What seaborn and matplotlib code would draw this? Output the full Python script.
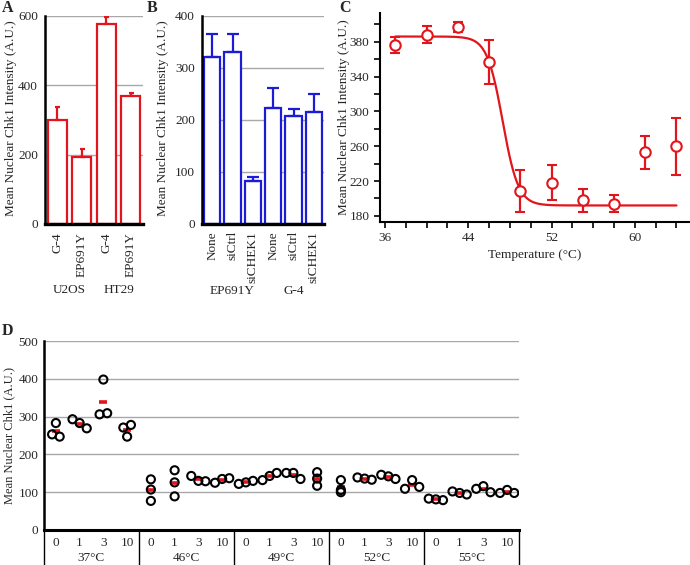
import numpy as np
import pandas as pd
import seaborn as sns
import matplotlib
matplotlib.use('Agg')
import matplotlib.pyplot as plt
import matplotlib.transforms as mtransforms
from matplotlib.ticker import MultipleLocator

# --- panel A: bars, upward error only
a_labels = ['G-4', 'EP691Y', 'G-4', 'EP691Y']
a_groups = ['U2OS', 'HT29']
a_values = [300, 192, 578, 370]
a_err = [38, 23, 20, 8]

# --- panel B
b_labels = ['None', 'siCtrl', 'siCHEK1', 'None', 'siCtrl', 'siCHEK1']
b_groups = ['EP691Y', 'G-4']
b_values = [322, 330, 83, 223, 208, 215]
b_err = [44, 36, 7, 39, 14, 35]

# --- panel C: melt curve
c_temp = [37, 40, 43, 46, 49, 52, 55, 58, 61, 64]
c_values = [376, 388, 397, 357, 209, 218, 198, 194, 253, 260]
c_err = [9, 10, 6, 25, 24, 20, 13, 10, 19, 33]
# Boltzmann fit parameters
c_fit_top, c_fit_bottom, c_fit_mid, c_fit_slope = 386, 192, 47.3, 0.75
c_fit_range = (37, 64)

# --- panel D: three replicates per (temperature, time)
d_temps = ['37°C', '46°C', '49°C', '52°C', '55°C']
d_times = ['0', '1', '3', '10']
d_rep1 = [253, 293, 306, 271, 134, 158, 143, 125, 122, 132, 151, 153,
          132, 139, 146, 109, 83, 102, 109, 98]
d_rep2 = [283, 283, 398, 247, 107, 126, 130, 135, 126, 143, 151, 136,
          106, 136, 142, 132, 81, 98, 116, 106]
d_rep3 = [247, 269, 309, 278, 77, 89, 129, 137, 130, 151, 135, 117,
          100, 133, 135, 114, 79, 94, 100, 98]
# horizontal spread of the replicate circles (fraction of a slot)
d_spread = [0.16, 0.3, 0.16, 0.16, 0, 0, 0.3, 0.3, 0.3, 0.3, 0.3, 0,
            0, 0.3, 0.3, 0.3, 0.3, 0.3, 0.3, 0.3]

RED = '#e3151c'
BLUE = '#1c1cd8'
GRID = '#a8a8a8'

sns.set_theme(style='white')
plt.rcParams['font.family'] = ['Liberation Serif', 'DejaVu Serif']
plt.rcParams['font.size'] = 9

W, H = 690, 565
fig = plt.figure(figsize=(W / 100, H / 100), dpi=100)


def box(l, t, r, b):
    return [l / W, 1 - b / H, (r - l) / W, (b - t) / H]


def ftext(x, y, s, **kw):
    fig.text(x / W, 1 - y / H, s, **kw)


def style_axes(ax, lw=1.8):
    for side in ['top', 'right']:
        ax.spines[side].set_visible(False)
    for side in ['left', 'bottom']:
        ax.spines[side].set_color('black')
        ax.spines[side].set_linewidth(lw)
    ax.yaxis.grid(True, color=GRID, lw=1)
    ax.set_axisbelow(True)


def bar_panel(ax, labels, values, err, color, ymax, ystep, capsize, width):
    n = len(values)
    df = pd.DataFrame({'pos': range(n), 'value': values})
    sns.barplot(data=df, x='pos', y='value', ax=ax, color='white',
                edgecolor=color, linewidth=1.6, width=width, errorbar=None,
                saturation=1)
    ax.errorbar(range(n), values, yerr=[np.zeros(n), err], fmt='none',
                ecolor=color, elinewidth=1.6, capsize=capsize, capthick=1.6,
                zorder=3)
    style_axes(ax)
    ax.set_xlim(-0.5, n - 0.5)
    ax.set_ylim(0, ymax)
    ax.set_yticks(np.arange(0, ymax + 1, ystep))
    ax.set_xticks(range(n))
    ax.set_xticklabels(labels, rotation=90, fontsize=9.5)
    ax.tick_params(axis='y', length=0, pad=5, labelsize=9.5)
    ax.set_xlabel('')
    ax.set_ylabel('')


# ---------- A
axA = fig.add_axes(box(45, 16, 143, 224))
bar_panel(axA, a_labels, a_values, a_err, RED, 600, 200, 1.8, 0.78)
axA.spines['bottom'].set_linewidth(2.4)
axA.tick_params(axis='x', length=0, pad=6)
trA = mtransforms.blended_transform_factory(axA.transData, fig.transFigure)
for i, g in enumerate(a_groups):
    axA.text(2 * i + 0.5, 1 - 290 / H, g, transform=trA, ha='center',
             va='center', fontsize=9.5)
ftext(11, 118, 'Mean Nuclear Chk1 Intensity (A.U.)', rotation=90,
      ha='center', va='center', fontsize=9.5)

# ---------- B
axB = fig.add_axes(box(202, 16, 324, 224))
bar_panel(axB, b_labels, b_values, b_err, BLUE, 400, 100, 4, 0.8)
axB.spines['bottom'].set_linewidth(2.4)
axB.set_xticks(np.arange(-0.5, len(b_values)), minor=True)
axB.tick_params(axis='x', which='major', length=0, pad=5)
axB.tick_params(axis='x', which='minor', length=5, width=1.2, color='black',
                direction='out')
trB = mtransforms.blended_transform_factory(axB.transData, fig.transFigure)
for i, g in enumerate(b_groups):
    axB.text(3 * i + 1, 1 - 291 / H, g, transform=trB, ha='center',
             va='center', fontsize=9.5)
ftext(163, 118, 'Mean Nuclear Chk1 Intensity (A.U.)', rotation=90,
      ha='center', va='center', fontsize=9.5)

# ---------- C
axC = fig.add_axes(box(380, 13, 690, 222))
xs = np.linspace(c_fit_range[0], c_fit_range[1], 300)
ys = c_fit_bottom + (c_fit_top - c_fit_bottom) / (1 + np.exp((xs - c_fit_mid) / c_fit_slope))
sns.lineplot(x=xs, y=ys, ax=axC, color=RED, lw=1.6)
axC.errorbar(c_temp, c_values, yerr=c_err, fmt='o', ms=7.5, mfc='white',
             mec=RED, mew=1.5, ecolor=RED, elinewidth=1.6, capsize=3.6,
             capthick=1.6, zorder=3)
for side in ['top', 'right']:
    axC.spines[side].set_visible(False)
for side in ['left', 'bottom']:
    axC.spines[side].set_color('black')
    axC.spines[side].set_linewidth(1.5)
axC.set_xlim(35.52, 65.3)
axC.set_ylim(173, 413)
axC.set_xticks([36, 44, 52, 60])
axC.xaxis.set_minor_locator(MultipleLocator(2))
axC.set_yticks(np.arange(180, 381, 40))
axC.yaxis.set_minor_locator(MultipleLocator(20))
axC.tick_params(which='both', direction='out', color='black', width=1.2,
                length=4, labelsize=9.5, bottom=True, left=True)
axC.set_xlabel('')
axC.set_ylabel('')
ftext(535, 255, 'Temperature (°C)', ha='center', va='center', fontsize=9.5)
ftext(344, 117, 'Mean Nuclear Chk1 Intensity (A.U.)', rotation=90,
      ha='center', va='center', fontsize=9.5)

# ---------- D
axD = fig.add_axes(box(44, 341, 519, 530))
n_slots = len(d_temps) * len(d_times)
slot = np.arange(n_slots)
spread = np.array(d_spread)
reps = np.array([d_rep1, d_rep2, d_rep3])
means = reps.mean(axis=0)
dfD = pd.DataFrame({
    'x': np.concatenate([slot - spread, slot, slot + spread]),
    'value': reps.ravel(),
})
axD.plot(slot, means, ls='none', marker='_', ms=6, mew=2.6, color=RED,
         zorder=2)
sns.scatterplot(data=dfD, x='x', y='value', ax=axD, marker='o', s=34,
                facecolor='none', edgecolor='black', linewidth=1.5, zorder=3)
style_axes(axD, lw=1.8)
axD.spines['bottom'].set_linewidth(2.2)
axD.set_xlim(-0.5, n_slots - 0.5)
axD.set_ylim(0, 500)
axD.set_yticks(np.arange(0, 501, 100))
axD.set_xticks(slot)
axD.set_xticklabels(d_times * len(d_temps), fontsize=9.5)
axD.tick_params(axis='x', length=0, pad=5)
axD.tick_params(axis='y', length=0, pad=4, labelsize=9.5)
axD.set_xlabel('')
axD.set_ylabel('')
trD = mtransforms.blended_transform_factory(axD.transData, fig.transFigure)
for i, t in enumerate(d_temps):
    axD.text(4 * i + 1.5, 1 - 558 / H, t, transform=trD, ha='center',
             va='center', fontsize=9.5)
for b in np.arange(-0.5, n_slots, 4):
    axD.plot([b, b], [1 - 530 / H, 0], transform=trD, color='black', lw=1,
             clip_on=False)
ftext(9, 435, 'Mean Nuclear Chk1 (A.U.)', rotation=90, ha='center',
      va='center', fontsize=9)

# panel letters
for letter, (x, y) in zip('ABCD', [(2, 8), (147, 8), (339, 8), (2, 331)]):
    ftext(x, y, letter, fontsize=11.5, fontweight='bold', ha='left',
          va='center')

fig.savefig('out.png', dpi=100)
